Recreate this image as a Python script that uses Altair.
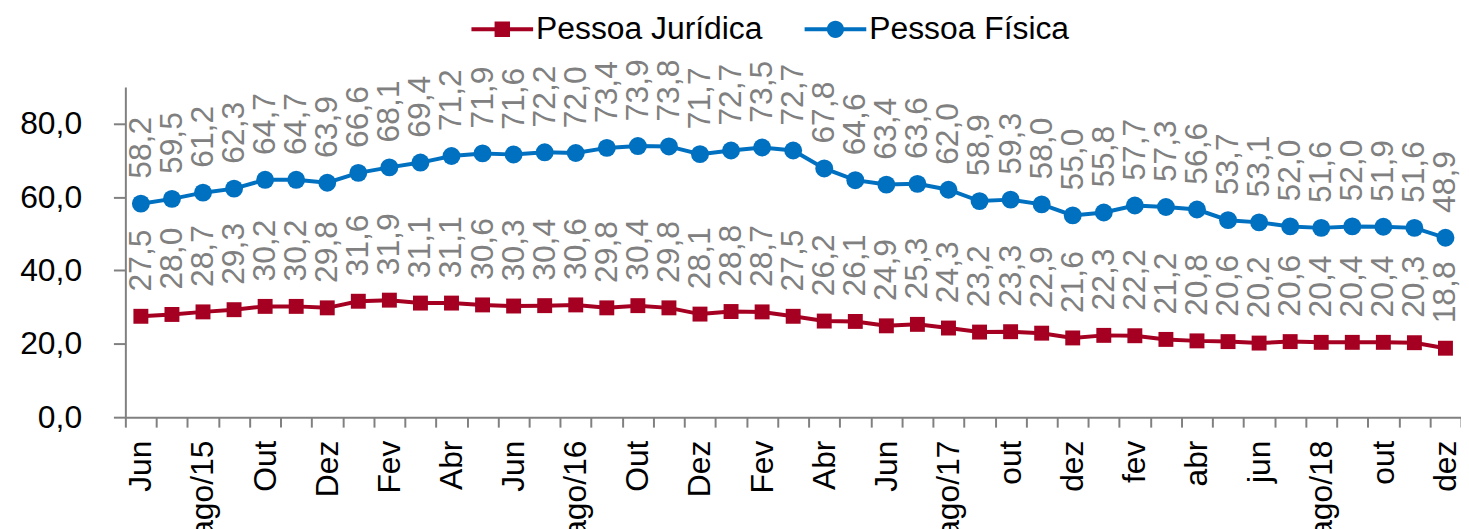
import json
import altair as alt
import pandas as pd

FONT = "Liberation Sans"

series = ["Pessoa Jurídica", "Pessoa Física"]
colors = ["#A50021", "#0070C0"]

tick_labels = ["Jun", "", "ago/15", "", "Out", "", "Dez", "", "Fev", "", "Abr", "",
               "Jun", "", "ago/16", "", "Out", "", "Dez", "", "Fev", "", "Abr", "",
               "Jun", "", "ago/17", "", "out", "", "dez", "", "fev", "", "abr", "",
               "jun", "", "ago/18", "", "out", "", "dez"]

pessoa_fisica = [58.2, 59.5, 61.2, 62.3, 64.7, 64.7, 63.9, 66.6, 68.1, 69.4, 71.2,
                 71.9, 71.6, 72.2, 72.0, 73.4, 73.9, 73.8, 71.7, 72.7, 73.5, 72.7,
                 67.8, 64.6, 63.4, 63.6, 62.0, 58.9, 59.3, 58.0, 55.0, 55.8, 57.7,
                 57.3, 56.6, 53.7, 53.1, 52.0, 51.6, 52.0, 51.9, 51.6, 48.9]

pessoa_juridica = [27.5, 28.0, 28.7, 29.3, 30.2, 30.2, 29.8, 31.6, 31.9, 31.1, 31.1,
                   30.6, 30.3, 30.4, 30.6, 29.8, 30.4, 29.8, 28.1, 28.8, 28.7, 27.5,
                   26.2, 26.1, 24.9, 25.3, 24.3, 23.2, 23.3, 22.9, 21.6, 22.3, 22.2,
                   21.2, 20.8, 20.6, 20.2, 20.6, 20.4, 20.4, 20.4, 20.3, 18.8]

rows = []
for i, v in enumerate(pessoa_juridica):
    rows.append({"idx": i, "serie": series[0], "value": v})
for i, v in enumerate(pessoa_fisica):
    rows.append({"idx": i, "serie": series[1], "value": v})
df = pd.DataFrame(rows)
df["label"] = df["value"].map(lambda v: f"{v:.1f}".replace(".", ","))

color_scale = alt.Scale(domain=series, range=colors)

x_enc = alt.X(
    "idx:O",
    scale=alt.Scale(paddingInner=0, paddingOuter=0),
    axis=alt.Axis(
        title=None,
        labelAngle=-90,
        labelExpr=json.dumps(tick_labels) + "[toNumber(datum.value)]",
        labelFont=FONT,
        labelFontSize=32,
        labelColor="black",
        labelPadding=13,
        tickBand="extent",
        tickSize=10,
        tickColor="#808080",
        tickWidth=2,
        domainColor="#808080",
        domainWidth=2,
        labelOverlap=False,
        labelBound=False,
    ),
)
y_enc = alt.Y(
    "value:Q",
    scale=alt.Scale(domain=[0, 90], nice=False),
    axis=alt.Axis(
        title=None,
        values=[0, 20, 40, 60, 80],
        labelExpr="replace(format(datum.value, '.1f'), '.', ',')",
        labelFont=FONT,
        labelFontSize=32,
        labelColor="black",
        labelPadding=32,
        tickSize=12,
        tickColor="#808080",
        tickWidth=2,
        domainColor="#808080",
        domainWidth=2,
        grid=False,
    ),
)

base = alt.Chart(df)

path_sq = "M-1,-0.065H1V0.065H-1Z M-0.25,-0.25H0.25V0.25H-0.25Z"
path_ci = "M-1,-0.065H1V0.065H-1Z M-0.28,0A0.28,0.28 0 1,1 0.28,0A0.28,0.28 0 1,1 -0.28,0Z"

leg = alt.Legend(
    title=None, orient="none", legendX=348, legendY=-89, direction="horizontal",
    symbolSize=3844, labelFontSize=32, labelFont=FONT, labelColor="black",
    labelOffset=3, columnPadding=42, symbolOpacity=1, symbolStrokeWidth=0,
    labelLimit=500, padding=0,
)

legend_layer = base.mark_point(filled=True, opacity=0).encode(
    x=x_enc, y=y_enc,
    color=alt.Color("serie:N", scale=color_scale, legend=leg),
    shape=alt.Shape("serie:N", scale=alt.Scale(domain=series, range=[path_sq, path_ci]), legend=leg),
)

lines = base.mark_line(strokeWidth=4).encode(
    x=x_enc, y=y_enc,
    color=alt.Color("serie:N", scale=color_scale, legend=None),
    detail="serie:N",
)

pts_pj = base.transform_filter(alt.datum.serie == series[0]).mark_point(
    shape="square", filled=True, size=225, opacity=1
).encode(x=x_enc, y=y_enc, color=alt.Color("serie:N", scale=color_scale, legend=None))

pts_pf = base.transform_filter(alt.datum.serie == series[1]).mark_point(
    shape="circle", filled=True, size=324, opacity=1
).encode(x=x_enc, y=y_enc, color=alt.Color("serie:N", scale=color_scale, legend=None))

texts = base.mark_text(
    angle=270, align="left", baseline="middle", dx=25,
    font=FONT, fontSize=32, color="#808080",
).encode(x=x_enc, y=y_enc, text="label:N")

chart = alt.layer(legend_layer, lines, pts_pj, pts_pf, texts).properties(
    width=1343,
    height=332,
    padding={"left": 118, "top": 78, "right": 0, "bottom": 111},
    autosize=alt.AutoSizeParams(type="none"),
    background="white",
).configure_view(stroke=None)

chart.save("out.html", embed_options={"renderer": "svg", "actions": False})
